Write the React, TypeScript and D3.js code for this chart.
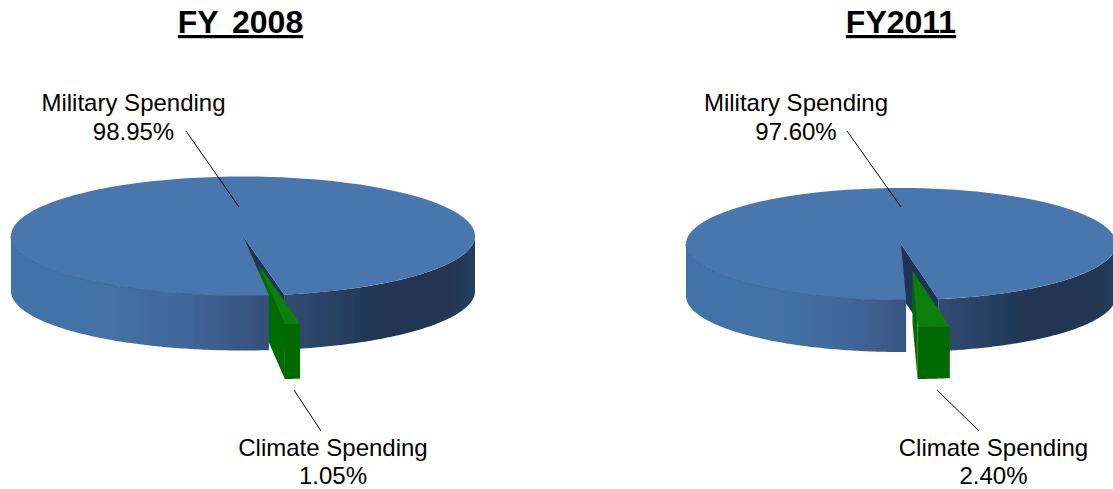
import React from "react";
import * as d3 from "d3";

const W = 1113, H = 489;
const climateLabel = "Climate Spending";
const militaryLabel = "Military Spending";
const values2008 = [1.05, 98.95];
const values2011 = [2.40, 97.60];
const titles = ["FY 2008", "FY2011"];
const pctLabels2008 = ["1.05%", "98.95%"];
const pctLabels2011 = ["2.40%", "97.60%"];

type Geo = { id: string; cx: number; cy: number; rx: number; ry: number; d: number; start: number; ex: number; ey: number };

const geos: Geo[] = [
  { id: "a", cx: 243, cy: 236, rx: 232, ry: 59.5, d: 55, start: 169.8, ex: 16, ey: 29 },
  { id: "b", cx: 901, cy: 244, rx: 215, ry: 56, d: 52, start: 170, ex: 11.5, ey: 27 },
];

const FONT = "'Liberation Sans', Arial, sans-serif";
const line = d3.line<[number, number]>().curve(d3.curveLinear);

function Pie3D({ g, values }: { g: Geo; values: number[] }) {
  const rad = (g.start * Math.PI) / 180;
  const arcs = d3.pie<number>().sort(null).startAngle(rad).endAngle(rad + 2 * Math.PI)(values);
  const c = arcs[0], m = arcs[1];
  const pt = (a: number, ox = 0, oy = 0): [number, number] => [
    g.cx + g.rx * Math.sin(a) + ox,
    g.cy - g.ry * Math.cos(a) + oy,
  ];
  const sample = (a0: number, a1: number, ox = 0, oy = 0) =>
    d3.range(0, 121).map((i) => pt(a0 + ((a1 - a0) * i) / 120, ox, oy));
  const tip: [number, number] = [g.cx, g.cy];
  const tipE: [number, number] = [g.cx + g.ex, g.cy + g.ey];
  const top = line([tip, ...sample(m.startAngle, m.endAngle)]) + "Z";
  const PI = Math.PI;
  const rim = (a0: number, a1: number) => line([...sample(a0, a1), ...sample(a1, a0, 0, g.d)]) + "Z";
  const rimRight = rim(PI / 2, c.startAngle);
  const rimLeft = rim(c.endAngle, (3 * PI) / 2);
  const edgeLeft = line(sample(c.endAngle, (3 * PI) / 2)) as string;
  const R = pt(c.startAngle);
  const innerWall = line([tip, R, [R[0], R[1] + g.d], [tip[0], tip[1] + g.d]]) + "Z";
  const A = pt(c.endAngle, g.ex, g.ey);
  const gTop = line([tipE, ...sample(c.startAngle, c.endAngle, g.ex, g.ey)]) + "Z";
  const gFront = line([...sample(c.startAngle, c.endAngle, g.ex, g.ey), ...sample(c.endAngle, c.startAngle, g.ex, g.ey + g.d)]) + "Z";
  const gWall = line([tipE, A, [A[0], A[1] + g.d], [tipE[0], tipE[1] + g.d]]) + "Z";
  const x0 = g.cx - g.rx, x1 = g.cx + g.rx;
  return (
    <g filter="url(#soft)">
      <defs>
        <linearGradient id={"side" + g.id} gradientUnits="userSpaceOnUse" x1={x0} x2={x1} y1={0} y2={0}>
          <stop offset="0" stopColor="#4272a8" />
          <stop offset="0.22" stopColor="#4471a6" />
          <stop offset="0.38" stopColor="#3f6699" />
          <stop offset="0.55" stopColor="#354f78" />
          <stop offset="0.68" stopColor="#2a4266" />
          <stop offset="0.8" stopColor="#203552" />
          <stop offset="0.95" stopColor="#203652" />
          <stop offset="1" stopColor="#263e5e" />
        </linearGradient>
      </defs>
      <path d={rimRight} fill={`url(#side${g.id})`} />
      <path d={innerWall} fill="#1f3657" />
      <path d={gWall} fill="#066c06" />
      <path d={gFront} fill="#056a06" />
      <path d={gTop} fill="#0a7f0e" />
      <path d={rimLeft} fill={`url(#side${g.id})`} />
      <path d={top} fill="#4a77ad" />
      <path d={edgeLeft} fill="none" stroke="#3a6593" strokeWidth={1} />
    </g>
  );
}

function Label({ x, y, gap, lines }: { x: number; y: number; gap: number; lines: string[] }) {
  return (
    <text textAnchor="middle" fontFamily={FONT} fontSize={24} fill="#000">
      {lines.map((t, i) => (
        <tspan key={t} x={x} y={y + i * gap}>{t}</tspan>
      ))}
    </text>
  );
}

export default function App() {
  return (
    <svg width={W} height={H} style={{ position: "absolute", left: 0, top: 0, background: "#fff" }}>
      <defs>
        <filter id="soft" x="-5%" y="-5%" width="110%" height="110%">
          <feGaussianBlur stdDeviation="0.6" />
        </filter>
      </defs>
      <Pie3D g={geos[0]} values={values2008} />
      <Pie3D g={geos[1]} values={values2011} />
      <text x={240.5} y={33} textAnchor="middle" fontFamily={FONT} fontWeight="bold" fontSize={32} wordSpacing={5} textDecoration="underline">{titles[0]}</text>
      <text x={901} y={33} textAnchor="middle" fontFamily={FONT} fontWeight="bold" fontSize={32} textDecoration="underline">{titles[1]}</text>
      <Label x={133.5} y={111} gap={29} lines={[militaryLabel, pctLabels2008[1]]} />
      <Label x={333} y={456} gap={28} lines={[climateLabel, pctLabels2008[0]]} />
      <Label x={796} y={111} gap={29} lines={[militaryLabel, pctLabels2011[1]]} />
      <Label x={993.5} y={456} gap={28} lines={[climateLabel, pctLabels2011[0]]} />
      <g stroke="#000" strokeWidth={1}>
        <line x1={186} y1={131} x2={239} y2={207} />
        <line x1={294} y1={390} x2={321} y2={431} />
        <line x1={847} y1={131} x2={901} y2={207} />
        <line x1={937} y1={390} x2={979} y2={431} />
      </g>
    </svg>
  );
}
